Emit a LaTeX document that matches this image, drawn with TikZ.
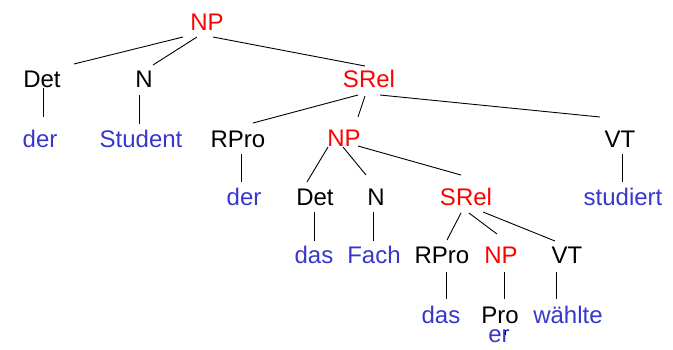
\documentclass[tikz,border=0pt]{standalone}
\usepackage{fontspec}
\setmainfont{Liberation Sans}
\usetikzlibrary{calc}
\definecolor{catred}{RGB}{255,0,0}
\definecolor{wordblue}{RGB}{55,55,205}
\tikzset{
  lbl/.style={anchor=base, inner sep=0pt, font=\fontsize{24}{28}\selectfont},
  cat/.style={lbl, text=black},
  phr/.style={lbl, text=catred},
  wrd/.style={lbl, text=wordblue},
  edge/.style={draw=black, line width=0.9pt}
}
\newcommand\tconn[6]{\draw[edge] ($(#1.base)+(#2,#3)$) -- ($(#4.base)+(#5,#6)$);}
\begin{document}
\begin{tikzpicture}[x=1pt,y=-1pt]
\useasboundingbox (0,0) rectangle (673,349);
\node[phr] (np1) at (207,30) {NP};
\node[cat] (det1) at (42,87) {Det};
\node[cat] (n1) at (144,87) {N};
\node[phr] (srel1) at (369,87) {SRel};
\node[wrd] (der1) at (40,147) {der};
\node[wrd] (student) at (141,147) {Student};
\node[cat] (rpro1) at (238,147) {RPro};
\node[phr] (np2) at (344,146) {NP};
\node[cat] (vt1) at (620,147) {VT};
\node[wrd] (der2) at (244,205) {der};
\node[cat] (det2) at (315,205) {Det};
\node[cat] (n2) at (376,205) {N};
\node[phr] (srel2) at (466,205) {SRel};
\node[wrd] (studiert) at (623,205) {studiert};
\node[wrd] (das1) at (314,263) {das};
\node[wrd] (fach) at (374,263) {Fach};
\node[cat] (rpro2) at (442,263) {RPro};
\node[phr] (np3) at (501,263) {NP};
\node[cat] (vt2) at (567,263) {VT};
\node[wrd] (das2) at (441,323) {das};
\node[cat] (pro) at (500,323) {Pro};
\node[wrd] (waehlte) at (568,323) {wählte};
\node[wrd] (er) at (499,342) {er};
\tconn{np1}{-24}{7}{det1}{32}{-23}
\tconn{np1}{-10}{7}{n1}{9}{-22}
\tconn{np1}{6}{7}{srel1}{-4}{-21}
\tconn{det1}{1}{1}{der1}{3}{-30}
\tconn{n1}{-5}{8}{student}{-2}{-23}
\tconn{srel1}{-11}{8}{rpro1}{15}{-24}
\tconn{srel1}{-4}{9}{np2}{14}{-29}
\tconn{srel1}{11}{8}{vt1}{-20}{-30}
\tconn{rpro1}{3}{7}{der2}{-3}{-23}
\tconn{np2}{-16}{1}{det2}{-8}{-23}
\tconn{np2}{-1}{1}{n2}{-10}{-30}
\tconn{np2}{14}{0}{srel2}{-5}{-30}
\tconn{vt1}{2}{7}{studiert}{-1}{-23}
\tconn{det2}{-1}{7}{das1}{0}{-22}
\tconn{n2}{-3}{7}{fach}{-1}{-22}
\tconn{srel2}{-5}{8}{rpro2}{5}{-23}
\tconn{srel2}{3}{8}{np3}{-4}{-29}
\tconn{srel2}{17}{7}{vt2}{-12}{-22}
\tconn{rpro2}{4}{9}{das2}{5}{-24}
\tconn{np3}{3}{9}{pro}{4}{-24}
\tconn{vt2}{-11}{9}{waehlte}{-12}{-24}
\tconn{pro}{5}{7}{er}{6}{-7}
\end{tikzpicture}
\end{document}
